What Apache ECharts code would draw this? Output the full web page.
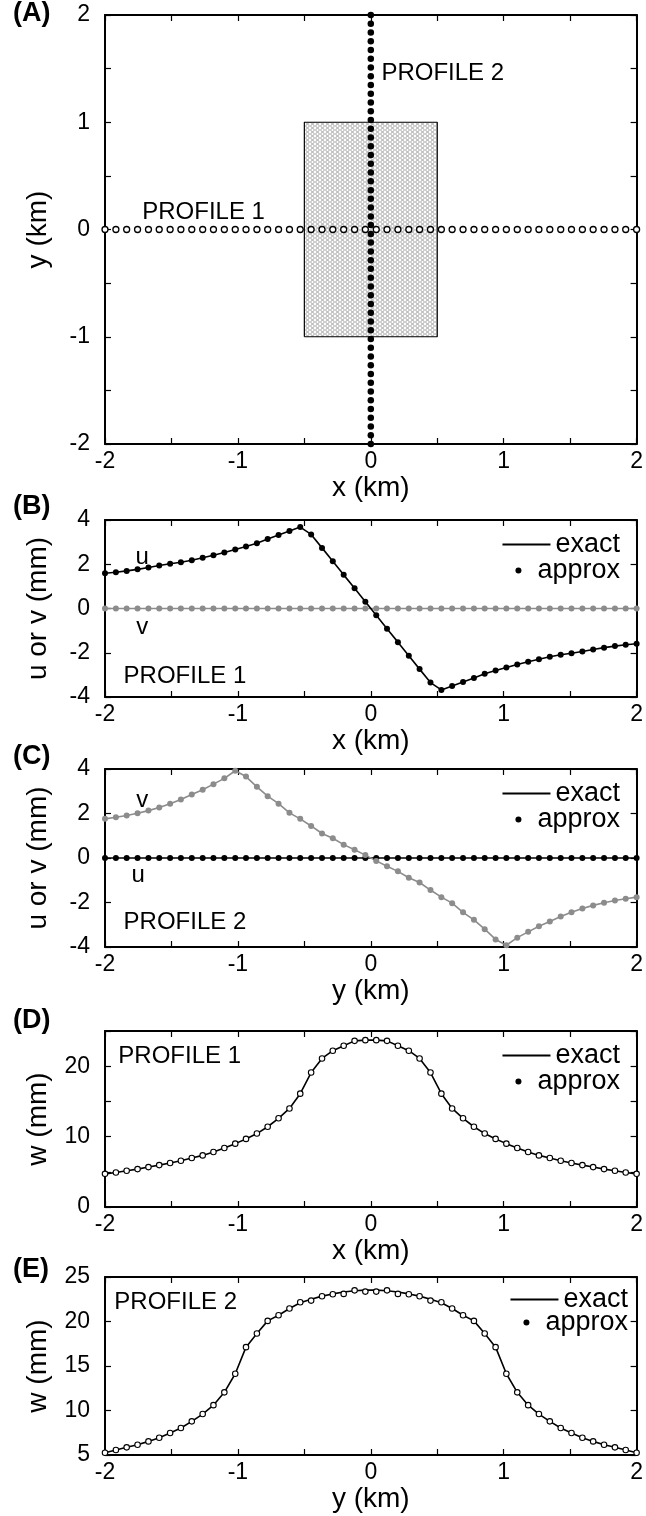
<!DOCTYPE html>
<html>
<head>
<meta charset="utf-8">
<script src="https://cdn.jsdelivr.net/npm/echarts@6/dist/echarts.min.js"></script>
<style>
html, body { margin: 0; padding: 0; background: #fff; }
#chart { width: 646px; height: 1516px; }
</style>
</head>
<body>
<div id="chart"></div>
<script>
// station positions along each profile (km), 50 points from -2 to 2
const stations = [-2.000, -1.918, -1.837, -1.755, -1.673, -1.592, -1.510, -1.429, -1.347, -1.265,
  -1.184, -1.102, -1.020, -0.939, -0.857, -0.776, -0.694, -0.612, -0.531, -0.449,
  -0.367, -0.286, -0.204, -0.122, -0.041, 0.041, 0.122, 0.204, 0.286, 0.367,
  0.449, 0.531, 0.612, 0.694, 0.776, 0.857, 0.939, 1.020, 1.102, 1.184,
  1.265, 1.347, 1.429, 1.510, 1.592, 1.673, 1.755, 1.837, 1.918, 2.000];

// source rectangle (km)
const srcX = [-0.5, 0.5];
const srcY = [-1, 1];

// (B) profile 1, horizontal displacements (mm)
const uProfile1 = [1.59, 1.64, 1.70, 1.77, 1.85, 1.94, 2.02, 2.09, 2.18, 2.29,
  2.41, 2.53, 2.67, 2.80, 2.95, 3.14, 3.32, 3.50, 3.68, 3.35,
  2.74, 2.14, 1.52, 0.92, 0.31, -0.31, -0.92, -1.52, -2.14, -2.74,
  -3.35, -3.68, -3.50, -3.32, -3.14, -2.95, -2.80, -2.67, -2.53, -2.41,
  -2.29, -2.18, -2.09, -2.02, -1.94, -1.85, -1.77, -1.70, -1.64, -1.59];
const vProfile1 = [0, 0, 0, 0, 0, 0, 0, 0, 0, 0, 0, 0, 0, 0, 0, 0, 0, 0, 0, 0, 0, 0, 0, 0, 0,
  0, 0, 0, 0, 0, 0, 0, 0, 0, 0, 0, 0, 0, 0, 0, 0, 0, 0, 0, 0, 0, 0, 0, 0, 0];

// (C) profile 2
const vProfile2 = [1.76, 1.83, 1.91, 2.01, 2.13, 2.27, 2.44, 2.63, 2.85, 3.07,
  3.32, 3.58, 3.92, 3.66, 3.20, 2.78, 2.44, 2.03, 1.76, 1.44,
  1.10, 0.89, 0.60, 0.37, 0.13, -0.13, -0.37, -0.60, -0.89, -1.10,
  -1.44, -1.76, -2.03, -2.44, -2.78, -3.20, -3.66, -3.92, -3.58, -3.32,
  -3.07, -2.85, -2.63, -2.44, -2.27, -2.13, -2.01, -1.91, -1.83, -1.76];
const uProfile2 = [0, 0, 0, 0, 0, 0, 0, 0, 0, 0, 0, 0, 0, 0, 0, 0, 0, 0, 0, 0, 0, 0, 0, 0, 0,
  0, 0, 0, 0, 0, 0, 0, 0, 0, 0, 0, 0, 0, 0, 0, 0, 0, 0, 0, 0, 0, 0, 0, 0, 0];

// (D) profile 1, vertical displacement (mm)
const wProfile1 = [4.71, 4.90, 5.14, 5.38, 5.67, 5.95, 6.24, 6.57, 6.95, 7.33,
  7.81, 8.38, 9.00, 9.67, 10.43, 11.40, 12.60, 14.00, 16.10, 19.10,
  21.10, 22.20, 22.90, 23.60, 23.70, 23.70, 23.60, 22.90, 22.20, 21.10,
  19.10, 16.10, 14.00, 12.60, 11.40, 10.43, 9.67, 9.00, 8.38, 7.81,
  7.33, 6.95, 6.57, 6.24, 5.95, 5.67, 5.38, 5.14, 4.90, 4.71];

// (E) profile 2, exact and approximate
const wProfile2Exact = [5.26, 5.56, 5.86, 6.16, 6.53, 6.94, 7.47, 8.03, 8.78, 9.60,
  10.60, 12.04, 14.13, 17.12, 18.65, 20.07, 20.70, 21.46, 22.10, 22.50,
  22.85, 23.10, 23.32, 23.46, 23.52, 23.52, 23.46, 23.32, 23.10, 22.85,
  22.50, 22.10, 21.46, 20.70, 20.07, 18.65, 17.12, 14.13, 12.04, 10.60,
  9.60, 8.78, 8.03, 7.47, 6.94, 6.53, 6.16, 5.86, 5.56, 5.26];
const wProfile2Approx = [5.26, 5.56, 5.86, 6.16, 6.53, 6.94, 7.47, 8.03, 8.78, 9.60,
  10.60, 12.04, 14.13, 17.12, 18.65, 20.07, 20.70, 21.46, 22.16, 22.35,
  22.84, 23.06, 23.10, 23.50, 23.36, 23.36, 23.50, 23.10, 23.06, 22.84,
  22.35, 22.16, 21.46, 20.70, 20.07, 18.65, 17.12, 14.13, 12.04, 10.60,
  9.60, 8.78, 8.03, 7.47, 6.94, 6.53, 6.16, 5.86, 5.56, 5.26];

const FONT = 'Liberation Sans';
const GRAY = '#8c8c8c';

// mesh texture for the source patch
const tile = document.createElement('canvas');
tile.width = 5; tile.height = 4;
const g = tile.getContext('2d');
g.fillStyle = '#fff'; g.fillRect(0, 0, 5, 4);
g.strokeStyle = '#9a9a9a'; g.lineWidth = 0.8;
g.beginPath(); g.ellipse(2.5, 2, 1.8, 1.5, 0, 0, Math.PI * 2); g.stroke();

const panels = [
  {top: 15, height: 429, letter: '(A)', ly: 15, xname: 'x (km)', yname: 'y (km)', ymin: -2, ymax: 2, yint: 1, yminor: true},
  {top: 520, height: 177, letter: '(B)', ly: 508, xname: 'x (km)', yname: 'u or v (mm)', ymin: -4, ymax: 4, yint: 2},
  {top: 769, height: 178, letter: '(C)', ly: 758, xname: 'y (km)', yname: 'u or v (mm)', ymin: -4, ymax: 4, yint: 2},
  {top: 1031, height: 176, letter: '(D)', ly: 1022, xname: 'x (km)', yname: 'w (mm)', ymin: 0, ymax: 25, yint: 5, every10: true},
  {top: 1277, height: 178, letter: '(E)', ly: 1271, xname: 'y (km)', yname: 'w (mm)', ymin: 5, ymax: 25, yint: 5}
];

const tickStyle = {color: '#000', width: 1.2};
const lineAxis = {onZero: false, lineStyle: {color: '#000', width: 2}};
const grid = [], xAxis = [], yAxis = [], title = [], legend = [], series = [];

panels.forEach((p, i) => {
  grid.push({left: 105, right: 4, top: p.top, height: p.height});
  title.push({text: p.letter, left: 13, top: p.ly - 15, padding: 0,
    textStyle: {fontSize: 27, fontWeight: 'bold', color: '#000', fontFamily: FONT}});
  const xc = {type: 'value', gridIndex: i, min: -2, max: 2, interval: 1,
    axisLine: lineAxis, splitLine: {show: false},
    axisTick: {inside: true, length: 6, lineStyle: tickStyle},
    minorTick: {show: true, splitNumber: 2, length: 6, lineStyle: tickStyle}};
  xAxis.push(Object.assign({}, xc, {position: 'bottom', name: p.xname, nameLocation: 'middle', nameGap: 28,
    nameTextStyle: {fontSize: 28, color: '#000', fontFamily: FONT},
    axisLabel: {margin: 6, fontSize: 23, color: '#000', fontFamily: FONT}}));
  xAxis.push(Object.assign({}, xc, {position: 'top', axisLabel: {show: false}}));
  const yc = {type: 'value', gridIndex: i, min: p.ymin, max: p.ymax, interval: p.yint,
    axisLine: lineAxis, splitLine: {show: false},
    axisTick: {inside: true, length: 6, lineStyle: tickStyle},
    minorTick: {show: !!p.yminor, splitNumber: 2, length: 6, lineStyle: tickStyle}};
  yAxis.push(Object.assign({}, yc, {position: 'left', name: p.yname, nameLocation: 'middle', nameGap: 53,
    nameTextStyle: {fontSize: 28, color: '#000', fontFamily: FONT},
    axisLabel: {margin: 15, fontSize: 23, color: '#000', fontFamily: FONT,
      formatter: v => (p.every10 && v % 10 !== 0) ? '' : String(v)}}));
  yAxis.push(Object.assign({}, yc, {position: 'right', axisLabel: {show: false}}));
  if (i > 0) {
    const right = i === 4 ? 18 : 26;
    const off = i === 4 ? [23, 46] : [25, 51];
    legend.push({right: right, top: p.top + off[0] - 14, padding: 0, selectedMode: false,
      itemWidth: 48, itemHeight: 2, textStyle: {fontSize: 27, color: '#000', fontFamily: FONT},
      data: [{name: 'exact', icon: 'rect', itemStyle: {color: '#000', borderWidth: 0, opacity: 1}}]});
    legend.push({right: right, top: p.top + off[1] - 14, padding: 0, selectedMode: false,
      itemWidth: 28, itemHeight: 6, textStyle: {fontSize: 27, color: '#000', fontFamily: FONT},
      data: [{name: 'approx', icon: 'circle', itemStyle: {color: '#000', borderWidth: 0, opacity: 1}}]});
  }
});

const ax = i => ({xAxisIndex: i * 2, yAxisIndex: i * 2});
const pairs = arr => stations.map((s, k) => [s, arr[k]]);

function note(i, x, y, text, pos) {
  return Object.assign({type: 'scatter', data: [[x, y]], symbolSize: 0, silent: true, z: 6,
    itemStyle: {opacity: 1},
    label: {show: true, position: pos || 'right', distance: 0, formatter: text,
      fontSize: 24, color: '#000', opacity: 1, fontFamily: FONT}}, ax(i));
}
function exact(i, arr, color) {
  return Object.assign({type: 'line', name: 'exact', data: pairs(arr), showSymbol: false,
    lineStyle: {color: color, width: 1.6}, itemStyle: {color: color}, z: 3}, ax(i));
}
function approx(i, arr, style, size) {
  return Object.assign({type: 'scatter', name: 'approx', data: pairs(arr), symbolSize: size,
    itemStyle: Object.assign({opacity: 1}, style), z: 4}, ax(i));
}

// (A) map view
series.push(Object.assign({type: 'line', data: [[srcX[0], srcY[0]], [srcX[1], srcY[0]], [srcX[1], srcY[1]], [srcX[0], srcY[1]], [srcX[0], srcY[0]]],
  showSymbol: false, lineStyle: {color: '#000', width: 1.2}, z: 2,
  markArea: {silent: true, itemStyle: {color: {image: tile, repeat: 'repeat'}, opacity: 1},
    data: [[{coord: [srcX[0], srcY[0]]}, {coord: [srcX[1], srcY[1]]}]]}}, ax(0)));
series.push(Object.assign({type: 'scatter', data: stations.map(s => [s, 0]), symbolSize: 6,
  itemStyle: {color: '#fff', borderColor: '#000', borderWidth: 1.3, opacity: 1}, z: 4}, ax(0)));
series.push(Object.assign({type: 'scatter', data: stations.map(s => [0, s]), symbolSize: 6.5,
  itemStyle: {color: '#000', opacity: 1}, z: 5}, ax(0)));
series.push(note(0, 0.08, 1.46, 'PROFILE 2'));
series.push(note(0, -1.72, 0.16, 'PROFILE 1'));

// (B) profile 1, u and v
series.push(exact(1, vProfile1, GRAY), approx(1, vProfile1, {color: GRAY}, 6));
series.push(exact(1, uProfile1, '#000'), approx(1, uProfile1, {color: '#000'}, 6));
series.push(note(1, -1.72, 2.3, 'u', 'inside'), note(1, -1.72, -0.86, 'v', 'inside'), note(1, -1.86, -3.05, 'PROFILE 1'));

// (C) profile 2, u and v
series.push(exact(2, uProfile2, '#000'), approx(2, uProfile2, {color: '#000'}, 6));
series.push(exact(2, vProfile2, GRAY), approx(2, vProfile2, {color: GRAY}, 6));
series.push(note(2, -1.72, 2.6, 'v', 'inside'), note(2, -1.75, -0.8, 'u', 'inside'), note(2, -1.86, -2.9, 'PROFILE 2'));

// (D) profile 1, w
const openDot = {color: '#fff', borderColor: '#000', borderWidth: 1.1};
series.push(exact(3, wProfile1, '#000'), approx(3, wProfile1, openDot, 5.5));
series.push(note(3, -1.9, 21.4, 'PROFILE 1'));

// (E) profile 2, w
series.push(exact(4, wProfile2Exact, '#000'), approx(4, wProfile2Approx, openDot, 5.5));
series.push(note(4, -1.93, 22.1, 'PROFILE 2'));

const chart = echarts.init(document.getElementById('chart'));
chart.setOption({
  animation: false,
  backgroundColor: '#fff',
  textStyle: {fontFamily: FONT},
  title: title,
  legend: legend,
  grid: grid,
  xAxis: xAxis,
  yAxis: yAxis,
  series: series
});
</script>
</body>
</html>
